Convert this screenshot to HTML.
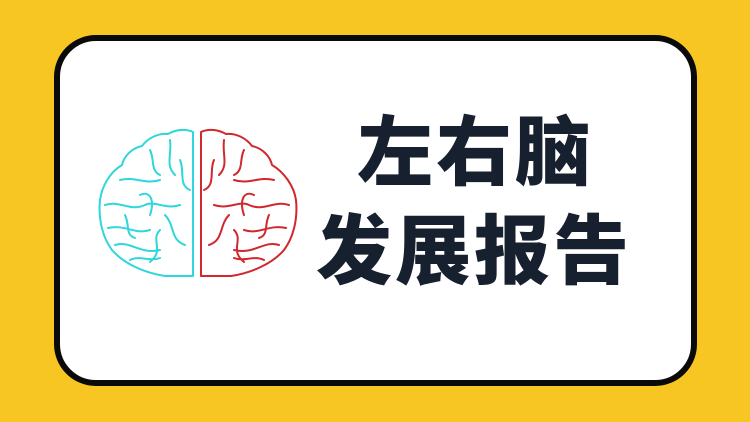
<!DOCTYPE html>
<html><head><meta charset="utf-8"><style>
html,body{margin:0;padding:0}
body{width:750px;height:422px;background:#f7c623;position:relative;overflow:hidden;font-family:"Liberation Sans","Noto Sans CJK SC",sans-serif}
.card{position:absolute;left:54px;top:35px;width:631px;height:339px;background:#fff;border:6px solid #0a0a0a;border-radius:42px}
.t{position:absolute;color:#17202e;font-weight:900;font-size:76px;line-height:1;letter-spacing:3px;white-space:nowrap;font-family:"Liberation Sans","Noto Sans CJK SC",sans-serif}
</style></head><body>
<div class="card"></div>
<svg width="750" height="422" style="position:absolute;left:0;top:0" fill="none" stroke-width="2" stroke-linecap="round" stroke-linejoin="round">
<g stroke="#2fd6dc">
<path d="M193,132 C185,128 175,130 168,134 C158,133 148,138 142,146 C132,148 124,156 122,165 C110,172 102,186 100,200 C98,220 103,238 112,250 C124,264 145,273 165,276 L193,276 Z"/>
<path d="M120,180 C135,176 145,185 160,180 M105,205 C120,200 130,212 145,205 C155,200 165,210 180,205 M108,228 C125,224 135,235 150,230 M115,245 C130,240 140,255 160,250 M150,150 C155,160 150,170 160,175 M170,140 C172,155 165,165 175,175 M140,195 C150,190 155,200 150,215 M165,215 C175,225 170,240 185,245 M130,260 C140,255 150,262 160,258 M180,160 C185,170 178,185 190,190 M125,215 C130,225 125,235 135,238 M160,230 C150,240 165,250 150,262"/>
</g>
<g stroke="#d0282e">
<path d="M201,132 C209,128 219,130 226,134 C236,133 246,138 252,146 C262,148 270,156 272,165 C284,172 294,186 296,200 C298,220 293,238 284,250 C272,264 251,273 231,276 L201,276 Z"/>
<path d="M274,180 C259,176 249,185 234,180 M289,205 C274,200 264,212 249,205 C239,200 229,210 214,205 M286,228 C269,224 259,235 244,230 M279,245 C264,240 254,255 234,250 M244,150 C239,160 244,170 234,175 M224,140 C222,155 229,165 219,175 M254,195 C244,190 239,200 244,215 M229,215 C219,225 224,240 209,245 M264,260 C254,255 244,262 234,258 M214,160 C209,170 216,185 204,190 M269,215 C264,225 269,235 259,238 M234,230 C244,240 229,250 244,262"/>
</g>
</svg>
<div class="t" style="left:357px;top:116px">左右脑</div>
<div class="t" style="left:316px;top:215px">发展报告</div>
</body></html>
